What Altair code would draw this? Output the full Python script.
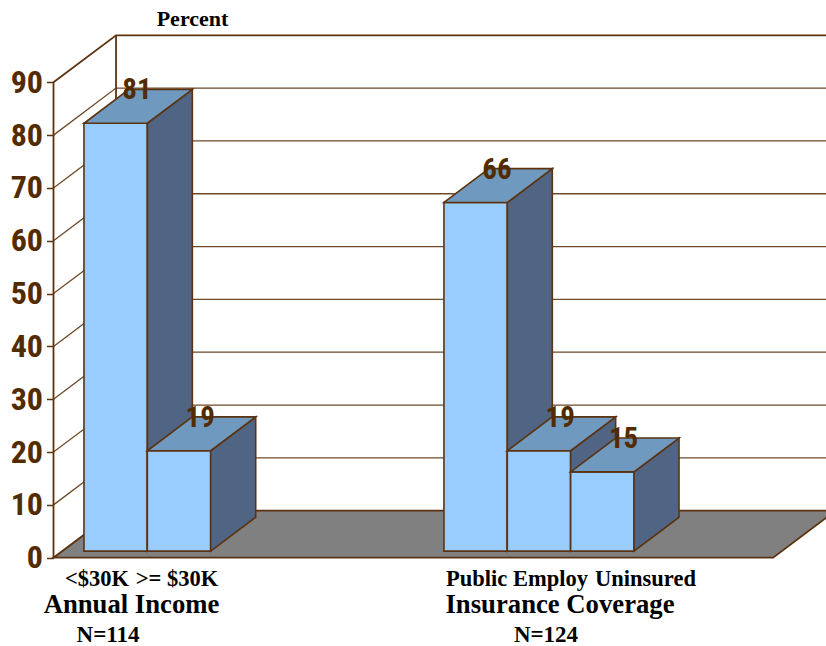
import altair as alt
import pandas as pd

# Survey results, in percent, by group
group_starts = [0.343, 6.025]
bar_groups = [[81, 19], [66, 19, 15]]
tick_values = [0, 10, 20, 30, 40, 50, 60, 70, 80, 90]

category_labels = ["<$30K", ">= $30K", "Public Employ", "Uninsured"]
group_titles = ["Annual Income", "Insurance Coverage"]
sample_sizes = ["N=114", "N=124"]

LINE = "#5C3310"
RULING = "#6E4A2A"
DIGITS = "#532B00"
NARROW_FONT = "Roboto Condensed, Liberation Sans"
FRONT, SIDE, TOP = "#99CCFF", "#4F6583", "#7099BF"

# Oblique projection: depth z in 0..1 shifts a point right and up
DEPTH_U = 0.987
DEPTH_V = 8.9
BAR_Z0, BAR_Z1 = 0.14, 0.86
FLOOR_END = 11.36
X_DOMAIN = [-0.8445, 12.194]
Y_DOMAIN = [-16.72, 105.58]


def px(u, z):
    return u + z * DEPTH_U


def py(v, z):
    return v + z * DEPTH_V


# Back wall and side wall rulings
grid_rows = []
for v in tick_values[1:-1]:
    for u, z in [(0, 0), (0, 1), (X_DOMAIN[1] + 1, 1)]:
        grid_rows.append({"id": v, "x": px(u, z), "y": py(v, z)})
grid = pd.DataFrame(grid_rows)

# Outer frame: the two uprights and the top edge of both walls
frame_rows = []
for z in (0, 1):
    for v in (0, 90):
        frame_rows.append({"id": f"post{z}", "x": px(0, z), "y": py(v, z)})
for u, z in [(0, 0), (0, 1), (X_DOMAIN[1] + 1, 1)]:
    frame_rows.append({"id": "top", "x": px(u, z), "y": py(90, z)})
frame = pd.DataFrame(frame_rows)

# Floor parallelogram
floor = pd.DataFrame(
    [
        {"x": px(0, 0), "y": py(0, 0), "y2": py(0, 0)},
        {"x": px(0, 1), "y": py(0, 0), "y2": py(0, 1)},
        {"x": px(FLOOR_END, 0), "y": py(0, 0), "y2": py(0, 1)},
        {"x": px(FLOOR_END, 1), "y": py(0, 1), "y2": py(0, 1)},
    ]
)

# Faces of every bar, nearest to the back-left painted first
face_rows = []
value_rows = []
bar_id = 0
for start, values in zip(group_starts, bar_groups):
    for i, value in enumerate(values):
        u0, u1 = start + i, start + i + 1
        a, b = BAR_Z0, BAR_Z1
        faces = {
            "front": [
                (px(u0, a), py(0, a), py(value, a)),
                (px(u1, a), py(0, a), py(value, a)),
            ],
            "side": [
                (px(u1, a), py(0, a), py(value, a)),
                (px(u1, b), py(0, b), py(value, b)),
            ],
            "top": [
                (px(u0, a), py(value, a), py(value, a)),
                (px(u0, b), py(value, a), py(value, b)),
                (px(u1, a), py(value, a), py(value, b)),
                (px(u1, b), py(value, b), py(value, b)),
            ],
        }
        for face, points in faces.items():
            for x, y, y2 in points:
                face_rows.append(
                    {"face": face, "id": f"{bar_id:02d}-{face}", "x": x, "y": y, "y2": y2}
                )
        value_rows.append(
            {"x": px(u0 + 0.5, 0.48), "y": py(value, 0.48), "label": str(value)}
        )
        bar_id += 1
bars = pd.DataFrame(face_rows)
value_labels = pd.DataFrame(value_rows)

x_scale = alt.Scale(domain=X_DOMAIN, nice=False, zero=False)
y_scale = alt.Scale(domain=Y_DOMAIN, nice=False, zero=False)
X = alt.X("x:Q", scale=x_scale, axis=None)
Y = alt.Y(
    "y:Q",
    scale=y_scale,
    axis=alt.Axis(
        values=tick_values,
        offset=-53.5,
        title=None,
        grid=False,
        domain=False,
        tickColor=LINE,
        tickSize=7,
        tickWidth=1.5,
        labelColor=DIGITS,
        labelFont=NARROW_FONT,
        labelFontWeight="bold",
        labelFontSize=32,
        labelPadding=4,
        labelOverlap=False,
        labelBound=False,
        labelFlush=False,
    ),
)

grid_layer = (
    alt.Chart(grid)
    .mark_line(stroke=RULING, strokeWidth=1.3, clip=True)
    .encode(x=X, y=Y, detail="id:N")
)
frame_layer = (
    alt.Chart(frame)
    .mark_line(stroke=LINE, strokeWidth=1.8, clip=True)
    .encode(x=X, y=Y, detail="id:N")
)
floor_layer = (
    alt.Chart(floor)
    .mark_area(fill="#808080", stroke=LINE, strokeWidth=1.8, clip=True)
    .encode(x=X, y=Y, y2="y2:Q")
)
bar_layer = (
    alt.Chart(bars)
    .mark_area(stroke=LINE, strokeWidth=1.6)
    .encode(
        x=X,
        y=Y,
        y2="y2:Q",
        detail="id:N",
        fill=alt.Fill(
            "face:N",
            scale=alt.Scale(domain=["front", "side", "top"], range=[FRONT, SIDE, TOP]),
            legend=None,
        ),
    )
)
value_layer = (
    alt.Chart(value_labels)
    .mark_text(
        font=NARROW_FONT,
        fontWeight="bold",
        fontSize=29,
        color=DIGITS,
        align="center",
        baseline="alphabetic",
        dy=-8,
    )
    .encode(x=X, y=Y, text="label:N")
)


def caption(text, centre_px, baseline_px, size):
    """A black serif caption placed by its centre and baseline."""
    u = X_DOMAIN[0] + centre_px / 826 * (X_DOMAIN[1] - X_DOMAIN[0])
    v = Y_DOMAIN[1] - baseline_px / 646 * (Y_DOMAIN[1] - Y_DOMAIN[0])
    return (
        alt.Chart(pd.DataFrame([{"x": u, "y": v, "label": text}]))
        .mark_text(
            font="Liberation Serif",
            fontWeight="bold",
            fontSize=size,
            color="#000000",
            align="center",
            baseline="alphabetic",
        )
        .encode(x=X, y=Y, text="label:N")
    )


captions = [
    caption("Percent", 192.5, 26, 22),
    caption(category_labels[0], 97, 586, 22.5),
    caption(category_labels[1], 177, 586, 22.5),
    caption(category_labels[2], 517, 586, 22.5),
    caption(category_labels[3], 645.5, 586, 22.5),
    caption(group_titles[0], 131.5, 613, 26.7),
    caption(group_titles[1], 560, 613, 26.7),
    caption(sample_sizes[0], 108, 642, 23),
    caption(sample_sizes[1], 546, 642, 23),
]

chart = (
    alt.layer(grid_layer, frame_layer, floor_layer, bar_layer, value_layer, *captions)
    .properties(
        width=826,
        height=646,
        padding=0,
        autosize=alt.AutoSizeParams(type="none"),
        background="#FFFFFF",
    )
    .configure_view(stroke=None)
)

chart.save("out.html", embed_options={"renderer": "svg", "actions": False})
